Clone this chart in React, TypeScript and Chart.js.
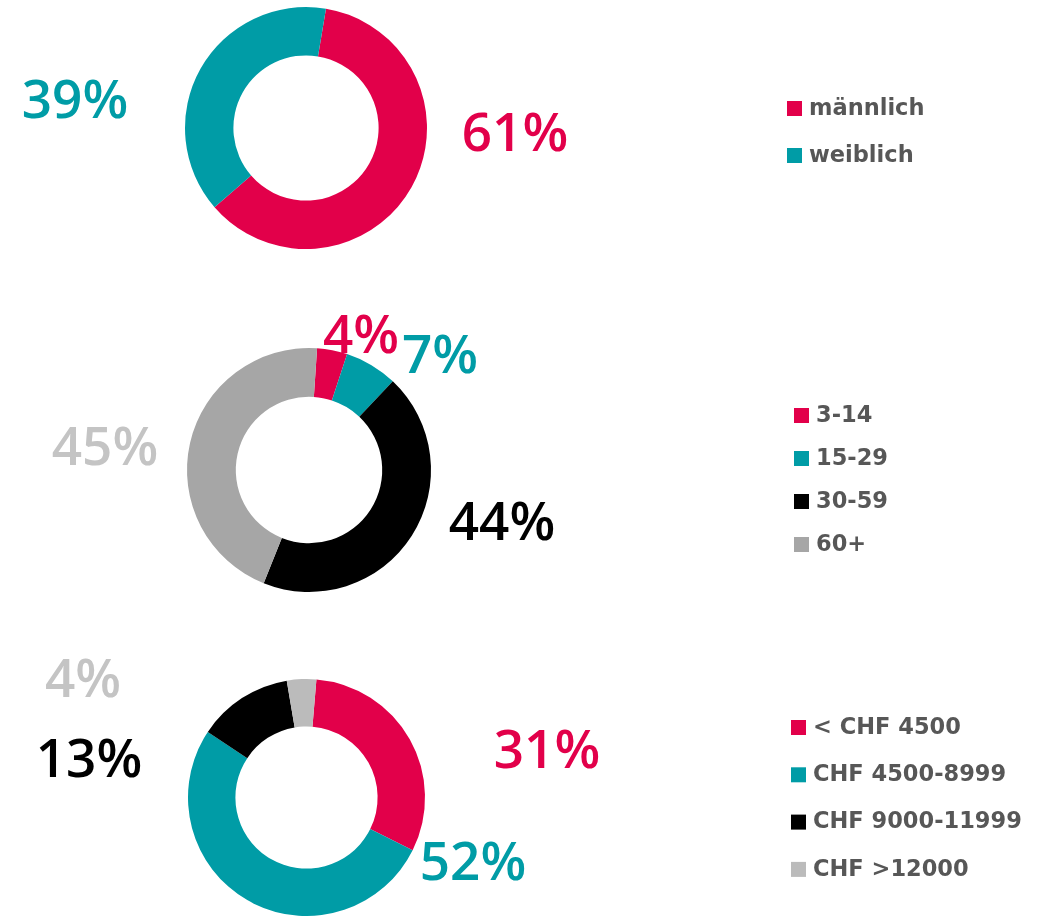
import React, { useEffect, useRef } from "react";
import { Chart, registerables } from "chart.js";

Chart.register(...registerables);

// ---- data ----
const genderLabels = ["männlich", "weiblich"];
const genderValues = [61, 39];
const genderColors = ["#e2004a", "#009ca6"];

const ageLabels = ["3-14", "15-29", "30-59", "60+"];
const ageValues = [4, 7, 44, 45];
const ageColors = ["#e2004a", "#009ca6", "#000000", "#a6a6a6"];

const incomeLabels = ["< CHF 4500", "CHF 4500-8999", "CHF 9000-11999", "CHF >12000"];
const incomeValues = [31, 52, 13, 4];
const incomeColors = ["#e2004a", "#009ca6", "#000000", "#bbbbbb"];

const W = 1043;

type Cfg = {
  labels: string[];
  values: number[];
  colors: string[];
  labelColors: string[];
  top: number;
  height: number;
  cx: number;
  cy: number;
  r: number;
  rotation: number;
  valuePos: [number, number][];
  legendX: number;
  legendY: number;
  legendGap: number;
};

const configs: Cfg[] = [
  {
    labels: genderLabels,
    values: genderValues,
    colors: genderColors,
    labelColors: genderColors,
    top: 0,
    height: 290,
    cx: 306,
    cy: 128,
    r: 121,
    rotation: 9.5,
    valuePos: [
      [515, 136],
      [75, 103],
    ],
    legendX: 787,
    legendY: 108,
    legendGap: 47,
  },
  {
    labels: ageLabels,
    values: ageValues,
    colors: ageColors,
    labelColors: ["#e2004a", "#009ca6", "#000000", "#c4c4c4"],
    top: 290,
    height: 350,
    cx: 309,
    cy: 470,
    r: 122,
    rotation: 3.8,
    valuePos: [
      [361, 338],
      [440, 358],
      [502, 525],
      [105, 450],
    ],
    legendX: 794,
    legendY: 415,
    legendGap: 43,
  },
  {
    labels: incomeLabels,
    values: incomeValues,
    colors: incomeColors,
    labelColors: ["#e2004a", "#009ca6", "#000000", "#c4c4c4"],
    top: 640,
    height: 276,
    cx: 306.5,
    cy: 799.5,
    r: 120.5,
    rotation: 4.8,
    valuePos: [
      [547, 753],
      [473, 865],
      [89, 762],
      [83, 682],
    ],
    legendX: 791,
    legendY: 727,
    legendGap: 47.3,
  },
];

function Donut({ cfg }: { cfg: Cfg }) {
  const ref = useRef<HTMLCanvasElement>(null);
  useEffect(() => {
    const canvas = ref.current!;
    const labelPlugin = {
      id: "labelsAndLegend",
      afterDraw(chart: any) {
        const ctx = chart.ctx as CanvasRenderingContext2D;
        ctx.save();
        ctx.textBaseline = "middle";
        ctx.textAlign = "center";
        ctx.font = "600 53px 'Open Sans'";
        cfg.values.forEach((v, i) => {
          const [x, y] = cfg.valuePos[i];
          ctx.fillStyle = cfg.labelColors[i];
          ctx.fillText(v + "%", x, y - cfg.top);
        });
        ctx.textAlign = "left";
        ctx.font = "bold 22.5px 'DejaVu Sans'";
        cfg.labels.forEach((l, i) => {
          const y = cfg.legendY + i * cfg.legendGap - cfg.top;
          ctx.fillStyle = cfg.colors[i];
          ctx.fillRect(cfg.legendX, y - 7, 15, 15);
          ctx.fillStyle = "#575757";
          ctx.fillText(l, cfg.legendX + 22, y + 1);
        });
        ctx.restore();
      },
    };
    const chart = new Chart(canvas, {
      type: "doughnut",
      data: {
        labels: cfg.labels,
        datasets: [
          {
            data: cfg.values,
            backgroundColor: cfg.colors,
            borderWidth: 0,
          },
        ],
      },
      options: {
        responsive: false,
        animation: false,
        cutout: "60%",
        rotation: cfg.rotation,
        layout: {
          padding: {
            left: cfg.cx - cfg.r,
            right: W - (cfg.cx + cfg.r),
            top: cfg.cy - cfg.r - cfg.top,
            bottom: cfg.top + cfg.height - (cfg.cy + cfg.r),
          },
        },
        plugins: {
          legend: { display: false },
          tooltip: { enabled: false },
        },
      },
      plugins: [labelPlugin],
    });
    return () => chart.destroy();
  }, [cfg]);
  return (
    <canvas
      ref={ref}
      width={W}
      height={cfg.height}
      style={{ position: "absolute", left: 0, top: cfg.top, width: W, height: cfg.height }}
    />
  );
}

export default function App() {
  return (
    <div style={{ position: "absolute", left: 0, top: 0, width: W, height: 916, background: "#fff", overflow: "hidden" }}>
      {configs.map((c, i) => (
        <Donut key={i} cfg={c} />
      ))}
    </div>
  );
}
